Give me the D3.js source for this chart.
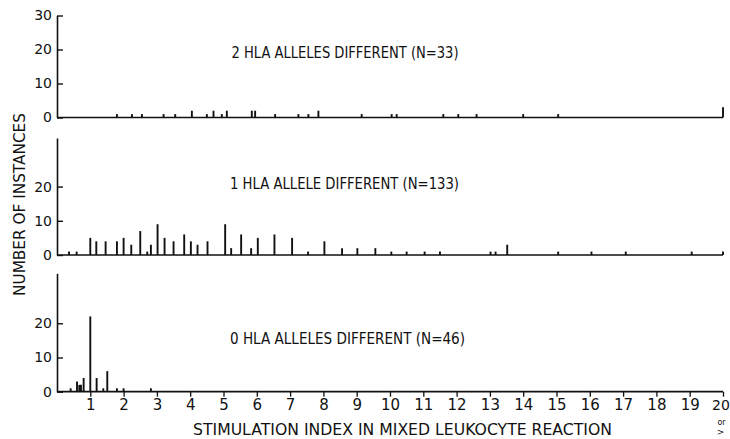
<!DOCTYPE html>
<html>
<head>
<meta charset="utf-8">
<script src="https://cdn.jsdelivr.net/npm/d3@7"></script>
<style>
  html, body { margin: 0; padding: 0; background: #fff; }
  svg { display: block; }
</style>
</head>
<body>
<svg id="chart" width="730" height="439"></svg>
<script>
// ---------------- data ----------------
// stimulation index positions and number of instances, per panel
const twoDiffSI    = [1.8, 2.25, 2.55, 3.2, 3.55, 4.05, 4.5, 4.7, 4.95, 5.1, 5.85, 5.95, 6.55, 7.25, 7.55, 7.85, 9.15, 10.05, 10.2, 11.6, 12.05, 12.6, 14.0, 15.05, 20];
const twoDiffCount = [1,   1,    1,    1,   1,    2,    1,   2,   1,    2,   2,    2,    1,    1,    1,    2,    1,    1,     1,    1,    1,     1,    1,    1,     3];

const oneDiffSI    = [0.36, 0.59, 1.0, 1.18, 1.46, 1.8, 2.0, 2.23, 2.5, 2.71, 2.82, 3.02, 3.23, 3.5, 3.82, 4.02, 4.22, 4.52, 5.05, 5.23, 5.53, 5.83, 6.03, 6.53, 7.06, 7.54, 8.03, 8.56, 9.02, 9.56, 10.04, 10.5, 11.04, 11.5, 13.02, 13.17, 13.52, 15.05, 16.05, 17.08, 19.06, 20];
const oneDiffCount = [1,    1,    5,   4,    4,    4,   5,   3,    7,   1,    3,    9,    5,    4,   6,    4,    3,    4,    9,    2,    6,    2,    5,    6,    5,    1,    4,    2,    2,    2,    1,     1,    1,     1,    1,     1,     3,     1,     1,     1,     1,     1];

const zeroDiffSI    = [0.41, 0.6, 0.67, 0.72, 0.8, 1.0, 1.19, 1.39, 1.51, 1.8, 2.0, 2.82];
const zeroDiffCount = [1,    3,   2,    2,    4,   22,  4,    1,    6,    1,   1,   1];

const panelTitles = [
  "2 HLA ALLELES DIFFERENT (N=33)",
  "1 HLA ALLELE DIFFERENT (N=133)",
  "0 HLA ALLELES DIFFERENT (N=46)"
];

const topYTicks   = [0, 10, 20, 30];
const lowerYTicks = [0, 10, 20];

const xTickValues = [1, 2, 3, 4, 5, 6, 7, 8, 9, 10, 11, 12, 13, 14, 15, 16, 17, 18, 19, 20];
const xTickLabels = ["1","2","3","4","5","6","7","8","9","10","11","12","13","14","15","16","17","18","19","20"];
const lastTickExtra = ["or", ">"];

const xTitle = "STIMULATION INDEX IN MIXED LEUKOCYTE REACTION";
const yTitle = "NUMBER OF INSTANCES";

// ---------------- layout ----------------
const svg = d3.select("#chart");
const ink = "#111";
const tickFont = "'DejaVu Sans', 'Liberation Sans', sans-serif";
const titleFont = "'DejaVu Sans Condensed', 'DejaVu Sans', sans-serif";

const x = d3.scaleLinear().domain([0, 20]).range([57, 723]);

const panels = [
  { si: twoDiffSI,  n: twoDiffCount,  title: panelTitles[0], yMax: 30,   ticks: topYTicks,   base: 117.5, top: 15.5,  titleY: 57.5,  titleX: 345,   titleW: 227 },
  { si: oneDiffSI,  n: oneDiffCount,  title: panelTitles[1], yMax: 34.2, ticks: lowerYTicks, base: 255,   top: 138,   titleY: 188.5, titleX: 344.5, titleW: 229 },
  { si: zeroDiffSI, n: zeroDiffCount, title: panelTitles[2], yMax: 34.6, ticks: lowerYTicks, base: 391.7, top: 273.3, titleY: 344,   titleX: 347.5, titleW: 235 }
];

panels.forEach((p, pi) => {
  const y = d3.scaleLinear().domain([0, p.yMax]).range([p.base, p.top]);
  const g = svg.append("g");

  // y axis
  const yAxis = d3.axisLeft(y)
    .tickValues(p.ticks)
    .tickSizeInner(-6)
    .tickSizeOuter(0)
    .tickPadding(5)
    .tickFormat(d3.format("d"));
  const ya = g.append("g")
    .attr("transform", `translate(${x(0)},0)`)
    .call(yAxis);
  ya.select(".domain").attr("stroke", ink).attr("stroke-width", 1.6);
  ya.selectAll(".tick line").attr("stroke", ink).attr("stroke-width", 1.4);
  ya.selectAll(".tick text")
    .attr("fill", ink)
    .style("font-family", tickFont)
    .style("font-size", "14px");

  // baseline
  g.append("line")
    .attr("x1", x(0)).attr("x2", x(20))
    .attr("y1", y(0)).attr("y2", y(0))
    .attr("stroke", ink).attr("stroke-width", 1.7);

  // needles
  const rows = p.si.map((s, i) => ({ s, c: p.n[i] }));
  g.selectAll("line.bar")
    .data(rows)
    .join("line")
    .attr("class", "bar")
    .attr("x1", d => x(d.s)).attr("x2", d => x(d.s))
    .attr("y1", y(0)).attr("y2", d => y(d.c))
    .attr("stroke", ink)
    .attr("stroke-width", 1.9);

  // panel title
  g.append("text")
    .attr("x", p.titleX - p.titleW / 2)
    .attr("y", p.titleY)
    .attr("textLength", p.titleW)
    .attr("lengthAdjust", "spacingAndGlyphs")
    .attr("fill", ink)
    .style("font-family", titleFont)
    .style("font-size", "16px")
    .text(p.title);

  // x axis ticks on the bottom panel only
  if (pi === panels.length - 1) {
    const xAxis = d3.axisBottom(x)
      .tickValues(xTickValues)
      .tickSize(5)
      .tickPadding(3)
      .tickFormat((d, i) => xTickLabels[i]);
    const xa = g.append("g")
      .attr("transform", `translate(0,${y(0)})`)
      .call(xAxis);
    xa.select(".domain").remove();
    xa.selectAll(".tick line").attr("stroke", ink).attr("stroke-width", 1.3);
    xa.selectAll(".tick text")
      .attr("fill", ink)
      .style("font-family", tickFont)
      .style("font-size", "15px");
    // last label sits against the right edge: nudge it inside the page
    const lastTick = xa.selectAll(".tick").filter(d => d === xTickValues[xTickValues.length - 1]);
    lastTick.select("text").attr("dx", -2.5).style("font-size", "14px");
    // "or >" stacked under the last tick label
    lastTick.append("text")
      .attr("y", 33.5).attr("x", -2)
      .attr("fill", ink)
      .attr("text-anchor", "middle")
      .style("font-family", tickFont)
      .style("font-size", "8px")
      .text(lastTickExtra[0]);
    lastTick.append("text")
      .attr("y", 43.5).attr("x", -3)
      .attr("fill", ink)
      .attr("text-anchor", "middle")
      .style("font-family", tickFont)
      .style("font-size", "9px")
      .text(lastTickExtra[1]);
  }
});

// axis titles
svg.append("text")
  .attr("x", 193)
  .attr("y", 435)
  .attr("textLength", 419)
  .attr("lengthAdjust", "spacingAndGlyphs")
  .attr("fill", ink)
  .style("font-family", tickFont)
  .style("font-size", "15px")
  .text(xTitle);

svg.append("text")
  .attr("transform", "translate(25,296) rotate(-90)")
  .attr("x", 0).attr("y", 0)
  .attr("textLength", 183)
  .attr("lengthAdjust", "spacingAndGlyphs")
  .attr("fill", ink)
  .style("font-family", tickFont)
  .style("font-size", "15px")
  .text(yTitle);
</script>
</body>
</html>
